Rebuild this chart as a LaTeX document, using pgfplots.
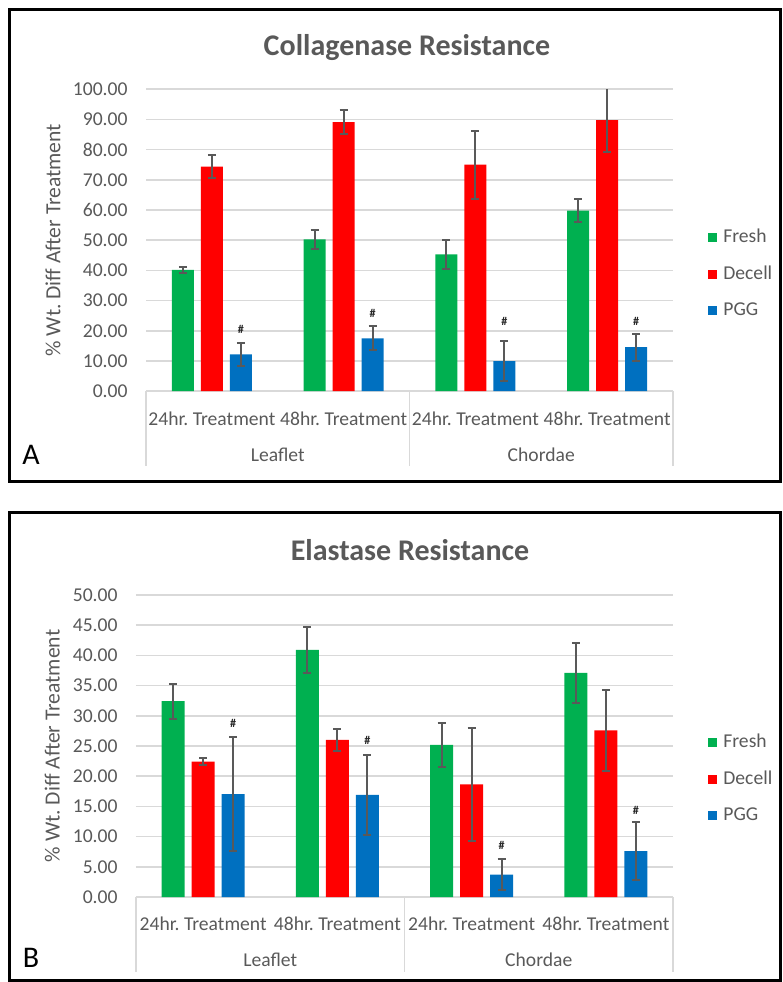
\documentclass[border=0pt]{standalone}
\usepackage{fontspec}
\setmainfont{Carlito}
\usepackage{pgfplots}
\pgfplotsset{compat=1.18}
\frenchspacing
\definecolor{cgreen}{HTML}{00B050}
\definecolor{cred}{HTML}{FF0000}
\definecolor{cblue}{HTML}{0070C0}
\definecolor{txt}{HTML}{595959}
\definecolor{gridc}{HTML}{D9D9D9}
\definecolor{errc}{HTML}{595959}
\newcommand\tickfont{\fontsize{9.8}{11}\selectfont}
\tikzset{hashmark/.style={font=\fontsize{6}{6}\selectfont\bfseries, text=black!85}}
\pgfplotsset{
  sqlegend/.style={legend image code/.code={\fill[##1] (0pt,-2.25pt) rectangle (4.5pt,2.25pt);}},
  excel/.style={
    scale only axis, ybar, ymin=0, xmin=-0.5, xmax=3.5,
    every axis plot post/.append style={sqlegend},
    xtick={0,1,2,3},
    xticklabels={24hr.\ Treatment,48hr.\ Treatment,24hr.\ Treatment,48hr.\ Treatment},
    axis x line*=bottom, axis y line*=left,
    x axis line style={draw=gridc, line width=0.75pt, -},
    y axis line style={draw=none, -},
    major tick length=0pt,
    ymajorgrids, grid style={draw=gridc, line width=0.75pt},
    tick label style={font=\tickfont, text=txt},
    /pgf/number format/assume math mode=true,
    yticklabel style={/pgf/number format/fixed, /pgf/number format/fixed zerofill, /pgf/number format/precision=2, xshift=-5.7pt},
    ylabel={\% Wt. Diff After Treatment},
    ylabel style={font=\fontsize{10.8}{12}\selectfont, text=txt, anchor=center},
    clip mode=individual,
    legend cell align=left,
    legend style={draw=none, fill=none, inner sep=0pt, font=\tickfont, text=txt,
      nodes={inner sep=0pt, text height=7pt, text depth=2pt}, column sep=3pt, row sep=9.25pt},
    error bars/error bar style={draw=errc, line width=1pt},
    error bars/error mark options={rotate=90, mark size=2pt, draw=errc, line width=1pt},
  },
}
\begin{document}
\begin{tikzpicture}
\useasboundingbox (0,0) rectangle (391.5pt,-491pt);
% frames
\draw[line width=1.5pt] (4.5pt,-4.5pt) rectangle (390pt,-240.5pt);
\draw[line width=1.5pt] (4.5pt,-256pt) rectangle (390pt,-490pt);
% titles
\node[font=\fontsize{15}{18}\selectfont\bfseries, text=txt] at (203.5pt,-24pt) {Collagenase Resistance};
\node[font=\fontsize{15}{18}\selectfont\bfseries, text=txt] at (205pt,-275pt) {Elastase Resistance};
\node[font=\fontsize{15}{18}\selectfont] at (15.5pt,-227.5pt) {A};
\node[font=\fontsize{15}{18}\selectfont] at (15.5pt,-479pt) {B};

\begin{axis}[excel, at={(73pt,-195.6pt)}, anchor=south west,
  width=263.5pt, height=151pt, ymax=100, ytick={0,10,...,100},
  bar width=11pt, ybar=3.5pt,
  xticklabel style={yshift=-7pt},
  ylabel style={at={(axis description cs:-0.1765,0.5)}},
  legend style={at={(axis description cs:1.0664,0.54)}, anchor=north west}]
\addplot[fill=cgreen, draw=none, error bars/.cd, y dir=both, y explicit]
  coordinates {(0,40.2) +- (0,0.9) (1,50.3) +- (0,3.2) (2,45.3) +- (0,4.7) (3,59.8) +- (0,3.9)};
\addplot[fill=cred, draw=none, error bars/.cd, y dir=both, y explicit]
  coordinates {(0,74.4) +- (0,3.7) (1,89.1) +- (0,4.0) (2,75.0) +- (0,11.3) (3,89.8) +- (0,10.6)};
\addplot[fill=cblue, draw=none, error bars/.cd, y dir=both, y explicit]
  coordinates {(0,12.2) +- (0,3.9) (1,17.5) +- (0,4.0) (2,10.0) +- (0,6.7) (3,14.6) +- (0,4.5)};
\legend{Fresh,Decell,PGG}
\node[hashmark] at (axis cs:0,20.6) [xshift=14.5pt] {\#};
\node[hashmark] at (axis cs:1,25.8) [xshift=14.5pt] {\#};
\node[hashmark] at (axis cs:2,23.0) [xshift=14.5pt] {\#};
\node[hashmark] at (axis cs:3,23.0) [xshift=14.5pt] {\#};
\draw[gridc, line width=0.75pt] (axis cs:-0.5,0) -- ([yshift=-37.5pt]axis cs:-0.5,0);
\draw[gridc, line width=0.75pt] (axis cs:1.5,0) -- ([yshift=-37.5pt]axis cs:1.5,0);
\draw[gridc, line width=0.75pt] (axis cs:3.5,0) -- ([yshift=-37.5pt]axis cs:3.5,0);
\node[font=\tickfont, text=txt] at (axis cs:0.5,0) [yshift=-32pt] {Leaflet};
\node[font=\tickfont, text=txt] at (axis cs:2.5,0) [yshift=-32pt] {Chordae};
\end{axis}

\begin{axis}[excel, at={(68pt,-448.5pt)}, anchor=south west,
  width=268.5pt, height=151pt, ymax=50, ytick={0,5,...,50},
  bar width=11.5pt, ybar=3.5pt,
  xticklabel style={yshift=-6.5pt},
  ylabel style={at={(axis description cs:-0.156,0.5)}},
  legend style={at={(axis description cs:1.0652,0.5427)}, anchor=north west}]
\addplot[fill=cgreen, draw=none, error bars/.cd, y dir=both, y explicit]
  coordinates {(0,32.45) +- (0,2.9) (1,40.9) +- (0,3.8) (2,25.2) +- (0,3.6) (3,37.1) +- (0,5.0)};
\addplot[fill=cred, draw=none, error bars/.cd, y dir=both, y explicit]
  coordinates {(0,22.4) +- (0,0.6) (1,26.0) +- (0,1.8) (2,18.65) +- (0,9.3) (3,27.6) +- (0,6.7)};
\addplot[fill=cblue, draw=none, error bars/.cd, y dir=both, y explicit]
  coordinates {(0,17.05) +- (0,9.4) (1,16.9) +- (0,6.6) (2,3.7) +- (0,2.55) (3,7.6) +- (0,4.8)};
\legend{Fresh,Decell,PGG}
\node[hashmark] at (axis cs:0,28.8) [xshift=15pt] {\#};
\node[hashmark] at (axis cs:1,26.0) [xshift=15pt] {\#};
\node[hashmark] at (axis cs:2,8.6) [xshift=15pt] {\#};
\node[hashmark] at (axis cs:3,14.4) [xshift=15pt] {\#};
\draw[gridc, line width=0.75pt] (axis cs:-0.5,0) -- ([yshift=-37.5pt]axis cs:-0.5,0);
\draw[gridc, line width=0.75pt] (axis cs:1.5,0) -- ([yshift=-37.5pt]axis cs:1.5,0);
\draw[gridc, line width=0.75pt] (axis cs:3.5,0) -- ([yshift=-37.5pt]axis cs:3.5,0);
\node[font=\tickfont, text=txt] at (axis cs:0.5,0) [yshift=-31.5pt] {Leaflet};
\node[font=\tickfont, text=txt] at (axis cs:2.5,0) [yshift=-31.5pt] {Chordae};
\end{axis}
\end{tikzpicture}
\end{document}
